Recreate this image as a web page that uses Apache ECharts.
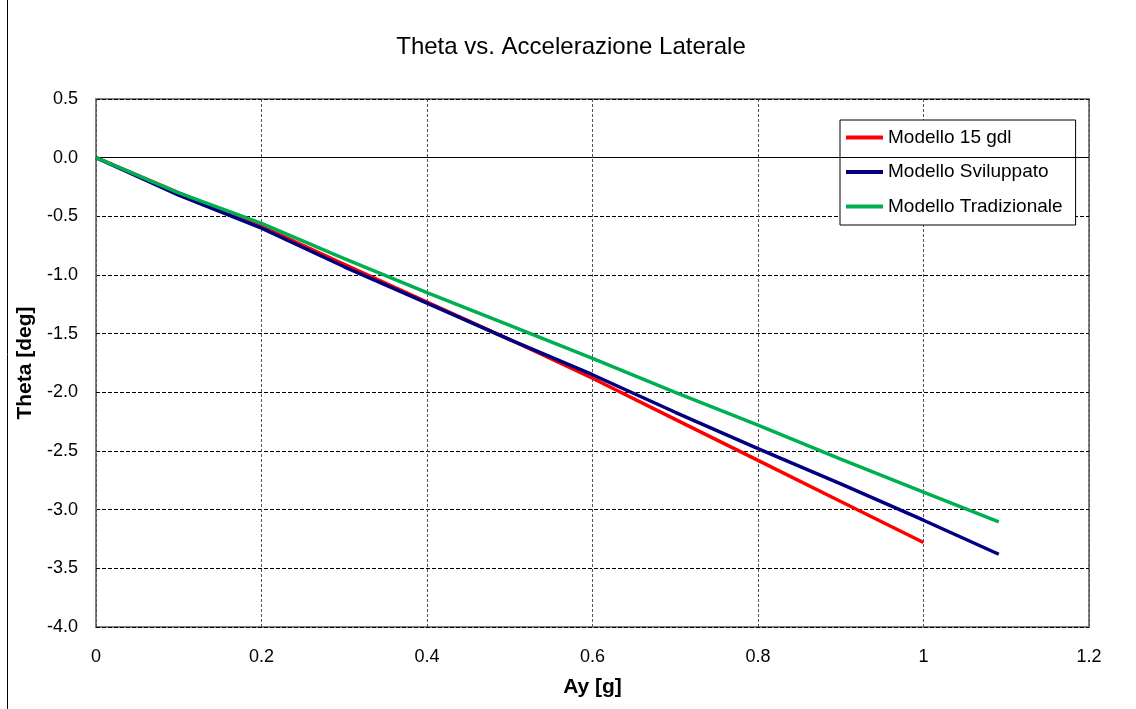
<!DOCTYPE html>
<html>
<head>
<meta charset="utf-8">
<title>Theta vs. Accelerazione Laterale</title>
<script src="https://cdn.jsdelivr.net/npm/echarts@6/dist/echarts.min.js"></script>
<style>
  html, body { margin: 0; padding: 0; background: #ffffff; }
  #chart { width: 1136px; height: 709px; }
</style>
</head>
<body>
<div id="chart"></div>
<script>
// Lateral acceleration Ay [g] against body roll angle Theta [deg]
const seriesNames = ['Modello 15 gdl', 'Modello Sviluppato', 'Modello Tradizionale'];

const ay15 = [0, 0.1, 0.2, 0.3, 0.4, 0.5, 0.6, 0.7, 0.8, 0.9, 1.0];
const theta15 = [0, -0.30, -0.585, -0.91, -1.23, -1.55, -1.88, -2.23, -2.58, -2.93, -3.28];

const aySvil = [0, 0.1, 0.2, 0.3, 0.4, 0.5, 0.6, 0.7, 0.8, 0.9, 1.0, 1.091];
const thetaSvil = [0, -0.32, -0.60, -0.93, -1.24, -1.55, -1.85, -2.17, -2.48, -2.78, -3.09, -3.38];

const ayTrad = [0, 0.1, 0.2, 0.3, 0.4, 0.5, 0.6, 0.7, 0.8, 0.9, 1.0, 1.091];
const thetaTrad = [0, -0.30, -0.56, -0.86, -1.15, -1.43, -1.71, -2.00, -2.28, -2.57, -2.85, -3.105];

const colors = ['#ff0000', '#000080', '#00b050'];

function pairs(xs, ys) { return xs.map((x, i) => [x, ys[i]]); }

const FONT = '"Liberation Sans", Arial, sans-serif';
const chart = echarts.init(document.getElementById('chart'), null, { renderer: 'canvas' });

chart.setOption({
  animation: false,
  backgroundColor: '#ffffff',
  title: {
    text: 'Theta vs. Accelerazione Laterale',
    left: 566, top: 30, textAlign: 'center',
    textStyle: { fontFamily: FONT, fontSize: 24, fontWeight: 'normal', color: '#000' }
  },
  grid: {
    left: 96, right: 47, top: 99, bottom: 82,
    show: true, borderColor: '#808080', borderWidth: 2, backgroundColor: '#ffffff'
  },
  legend: {
    orient: 'vertical', left: 840, top: 120,
    padding: [8, 13, 9, 6],
    borderColor: '#000', borderWidth: 1, backgroundColor: '#ffffff',
    itemWidth: 37, itemHeight: 4, itemGap: 15.5,
    icon: 'rect',
    textStyle: { fontFamily: FONT, fontSize: 19, color: '#000' },
    data: seriesNames
  },
  xAxis: {
    type: 'value', min: 0, max: 1.2, interval: 0.2,
    name: 'Ay [g]', nameLocation: 'middle', nameGap: 50,
    nameTextStyle: { fontFamily: FONT, fontSize: 21, fontWeight: 'bold', color: '#000' },
    axisLine: { show: false }, axisTick: { show: false },
    axisLabel: { fontFamily: FONT, fontSize: 18, color: '#000', margin: 21,
      formatter: v => String(Math.round(v * 10) / 10) },
    splitLine: { show: true, lineStyle: { color: '#555', type: [3, 2], width: 1 } }
  },
  yAxis: {
    type: 'value', min: -4, max: 0.5, interval: 0.5,
    name: 'Theta [deg]', nameLocation: 'middle', nameGap: 51, nameRotate: 90,
    nameTextStyle: { fontFamily: FONT, fontSize: 21, fontWeight: 'bold', color: '#000' },
    axisLine: { show: false }, axisTick: { show: false },
    axisLabel: { fontFamily: FONT, fontSize: 18, color: '#000', margin: 18,
      formatter: v => v.toFixed(1) },
    splitLine: { show: true, lineStyle: { color: '#000', type: [4, 2], width: 1 } }
  },
  graphic: [
    { type: 'line', shape: { x1: 7.5, y1: 0, x2: 7.5, y2: 709 },
      style: { stroke: '#000', lineWidth: 1 }, silent: true }
  ],
  series: [
    { name: seriesNames[0], type: 'line', data: pairs(ay15, theta15),
      showSymbol: false, color: colors[0], lineStyle: { width: 3.5, color: colors[0] },
      markLine: { silent: true, symbol: 'none', label: { show: false },
        lineStyle: { color: '#000', type: 'solid', width: 1 },
        data: [{ yAxis: 0 }] }, z: 3 },
    { name: seriesNames[1], type: 'line', data: pairs(aySvil, thetaSvil),
      showSymbol: false, color: colors[1], lineStyle: { width: 3.5, color: colors[1] }, z: 4 },
    { name: seriesNames[2], type: 'line', data: pairs(ayTrad, thetaTrad),
      showSymbol: false, color: colors[2], lineStyle: { width: 3.5, color: colors[2] }, z: 5 }
  ]
});
</script>
</body>
</html>
